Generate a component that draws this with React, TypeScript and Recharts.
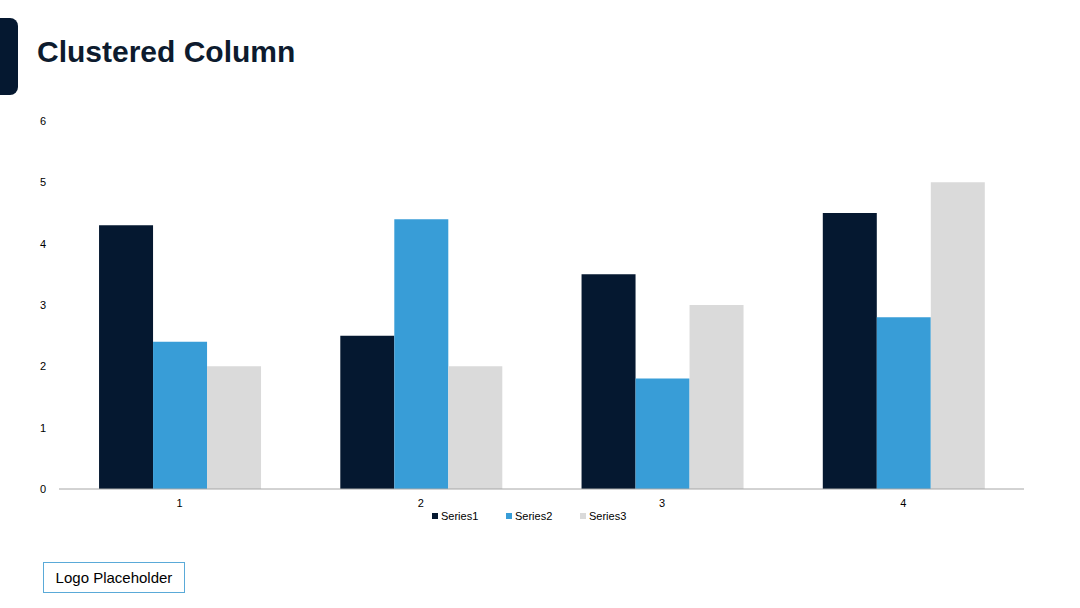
import { BarChart, Bar, XAxis, YAxis, Legend } from "recharts"

const categories = ["1", "2", "3", "4"]
const series1 = [4.3, 2.5, 3.5, 4.5]
const series2 = [2.4, 4.4, 1.8, 2.8]
const series3 = [2.0, 2.0, 3.0, 5.0]
const yTicks = [0, 1, 2, 3, 4, 5, 6]

const COLORS = ["#051830", "#389DD7", "#DADADA"]

const data = categories.map((name, i) => ({
  name,
  Series1: series1[i],
  Series2: series2[i],
  Series3: series3[i],
}))

const font = "'Liberation Sans', Arial, sans-serif"

const renderLegend = (props: any) => {
  const { payload } = props
  return (
    <div style={{ display: "flex", justifyContent: "center", fontFamily: font, fontSize: 11, color: "#000", paddingLeft: 6 }}>
      {payload.map((entry: any, index: number) => (
        <div key={`item-${index}`} style={{ display: "flex", alignItems: "center", width: 74 }}>
          <span style={{ width: 6, height: 6, background: entry.color, marginRight: 3, display: "inline-block" }} />
          <span>{entry.value}</span>
        </div>
      ))}
    </div>
  )
}

function App() {
  return (
    <div style={{ position: "absolute", left: 0, top: 0, width: 1080, height: 608, background: "#fff", overflow: "hidden" }}>
      <div style={{ position: "absolute", left: -10, top: 18, width: 28, height: 77, background: "#051830", borderRadius: 8 }} />
      <div style={{ position: "absolute", left: 37, top: 35, fontFamily: font, fontWeight: "bold", fontSize: 30, color: "#0D1B2E" }}>
        Clustered Column
      </div>
      <div style={{ position: "absolute", left: 0, top: 0 }}>
        <BarChart
          width={1080}
          height={540}
          data={data}
          margin={{ top: 121, right: 56, left: 39, bottom: 0 }}
          barCategoryGap="16.6%"
          barGap={0}
        >
          <XAxis
            dataKey="name"
            height={51}
            tickLine={false}
            axisLine={{ stroke: "#A6A6A6" }}
            tick={{ fill: "#000", fontSize: 11, fontFamily: font }}
            tickMargin={4}
          />
          <YAxis
            width={20}
            domain={[0, 6]}
            ticks={yTicks}
            axisLine={false}
            tickLine={false}
            tickMargin={7}
            tick={{ fill: "#000", fontSize: 11, fontFamily: font }}
          />
          <Legend verticalAlign="middle" content={renderLegend} wrapperStyle={{ top: 510, left: 0, width: 1080 }} />
          <Bar dataKey="Series1" fill={COLORS[0]} isAnimationActive={false} />
          <Bar dataKey="Series2" fill={COLORS[1]} isAnimationActive={false} />
          <Bar dataKey="Series3" fill={COLORS[2]} isAnimationActive={false} />
        </BarChart>
      </div>
      <div
        style={{
          position: "absolute",
          left: 43,
          top: 562,
          width: 140,
          height: 29,
          border: "1.5px solid #5AAAD8",
          fontFamily: font,
          fontSize: 15,
          color: "#000",
          display: "flex",
          alignItems: "center",
          justifyContent: "center",
        }}
      >
        Logo Placeholder
      </div>
    </div>
  )
}

export default App
